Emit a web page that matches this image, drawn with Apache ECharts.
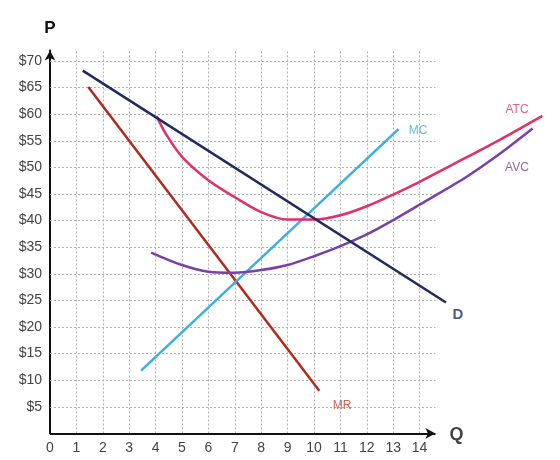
<!DOCTYPE html>
<html><head><meta charset="utf-8">
<script src="https://cdn.jsdelivr.net/npm/echarts@6/dist/echarts.min.js"></script>
<style>html,body{margin:0;padding:0;background:#fff}#c{width:560px;height:460px}</style>
</head><body><div id="c"></div>
<script>
// Data (Q = quantity, P = price)
const demandQ = [1.24, 15.0];
const demandP = [68.2, 24.6];
const mrQ = [1.45, 10.2];
const mrP = [65.1, 8.0];
const mcQ = [3.45, 13.2];
const mcP = [11.8, 57.2];
const atcQ = [4.04, 4.4, 5, 6, 7, 8, 9, 10, 11, 12, 13, 14, 15.2, 17, 18.65];
const atcP = [59.6, 56.2, 52.0, 47.6, 44.4, 41.6, 40.2, 40.2, 41.0, 42.7, 44.9, 47.3, 50.4, 55.1, 59.7];
const avcQ = [3.83, 5, 6, 7, 8, 9, 10, 11, 12, 13, 14, 15.8, 17.05, 18.28];
const avcP = [34.0, 31.65, 30.4, 30.2, 30.7, 31.65, 33.3, 35.2, 37.4, 40.1, 43.0, 48.3, 52.6, 57.3];
const xTicks = [1,2,3,4,5,6,7,8,9,10,11,12,13,14];
const yTicks = [5,10,15,20,25,30,35,40,45,50,55,60,65,70];
const qAxisEnd = 14.6;
const pAxisEnd = 72;
const curveLabels = [
  {name:'D', q:15.45, p:22.3, color:'#1f3463', size:15, weight:'bold'},
  {name:'MR', q:11.06, p:5.3, color:'#c0392b', size:12, weight:'normal'},
  {name:'MC', q:13.94, p:56.9, color:'#3aa9dc', size:12, weight:'normal'},
  {name:'ATC', q:17.69, p:60.8, color:'#e0306a', size:12, weight:'normal'},
  {name:'AVC', q:17.69, p:49.9, color:'#6b3d9a', size:12, weight:'normal'},
  {name:'Q', q:15.4, p:-0.4, color:'#111', size:18, weight:'bold'}
];

const zip = (a,b) => a.map((v,i)=>[v,b[i]]);
const font = 'Liberation Sans, Arial, sans-serif';
const gridStyle = {color:'#b0b0b0', width:1, type:[2,2]};

const chart = echarts.init(document.getElementById('c'), null, {renderer:'canvas'});
function lineSeries(name, data, color, smooth){
  return {name, type:'line', data, smooth: smooth||false, showSymbol:false, symbol:'none', clip:false, z:5,
    lineStyle:{color, width:2.5}, itemStyle:{color}};
}
chart.setOption({
  animation:false,
  grid:{left:50, top:50.4, width:501.6, height:383, containLabel:false},
  xAxis:{type:'value', min:0, max:19, interval:1,
    axisLine:{show:false}, axisTick:{show:false}, splitLine:{show:false},
    axisLabel:{fontFamily:font, fontSize:14, color:'#444', margin:8,
      formatter:v=> (v<=14) ? String(v) : ''}},
  yAxis:{type:'value', min:0, max:pAxisEnd, interval:5,
    name:'P', nameLocation:'end', nameGap:14,
    nameTextStyle:{fontFamily:font, fontSize:17, fontWeight:'bold', color:'#111', align:'center'},
    axisLine:{show:true, lineStyle:{color:'#111', width:2}, symbol:['none','arrow'], symbolSize:[8,10]},
    axisTick:{show:false}, splitLine:{show:false},
    axisLabel:{fontFamily:font, fontSize:14, color:'#444', margin:8,
      formatter:v=> (v>0 && v<=70 && v%5===0) ? '$'+v : ''}},
  series:[
    {name:'grid', type:'line', data:[], z:1, silent:true,
      markLine:{silent:true, symbol:['none','none'], label:{show:false}, lineStyle:gridStyle, animation:false,
        data: xTicks.map(v=>[{coord:[v,0]},{coord:[v,pAxisEnd]}])
          .concat(yTicks.map(v=>[{coord:[0,v]},{coord:[qAxisEnd,v]}]))}},
    {name:'qaxis', type:'line', data:[], z:4, silent:true,
      markLine:{silent:true, symbol:['none','arrow'], symbolSize:[8,10], label:{show:false},
        lineStyle:{color:'#111', width:2, type:'solid'}, animation:false,
        data:[[{coord:[0,0]},{coord:[qAxisEnd,0]}]]}},
    lineSeries('MR', zip(mrQ, mrP), '#b02a1d'),
    lineSeries('MC', zip(mcQ, mcP), '#3ab0e2'),
    lineSeries('AVC', zip(avcQ, avcP), '#7a3fa8', 0.3),
    lineSeries('ATC', zip(atcQ, atcP), '#e2306c', 0.3),
    lineSeries('D', zip(demandQ, demandP), '#1f2b5e'),
    {name:'labels', type:'scatter', symbolSize:0, clip:false, z:6, silent:true,
      data: curveLabels.map(l=>({value:[l.q,l.p], label:{show:true, position:'inside', formatter:l.name,
        color:l.color, fontSize:l.size, fontWeight:l.weight, fontFamily:font}}))}
  ]
});
</script></body></html>
